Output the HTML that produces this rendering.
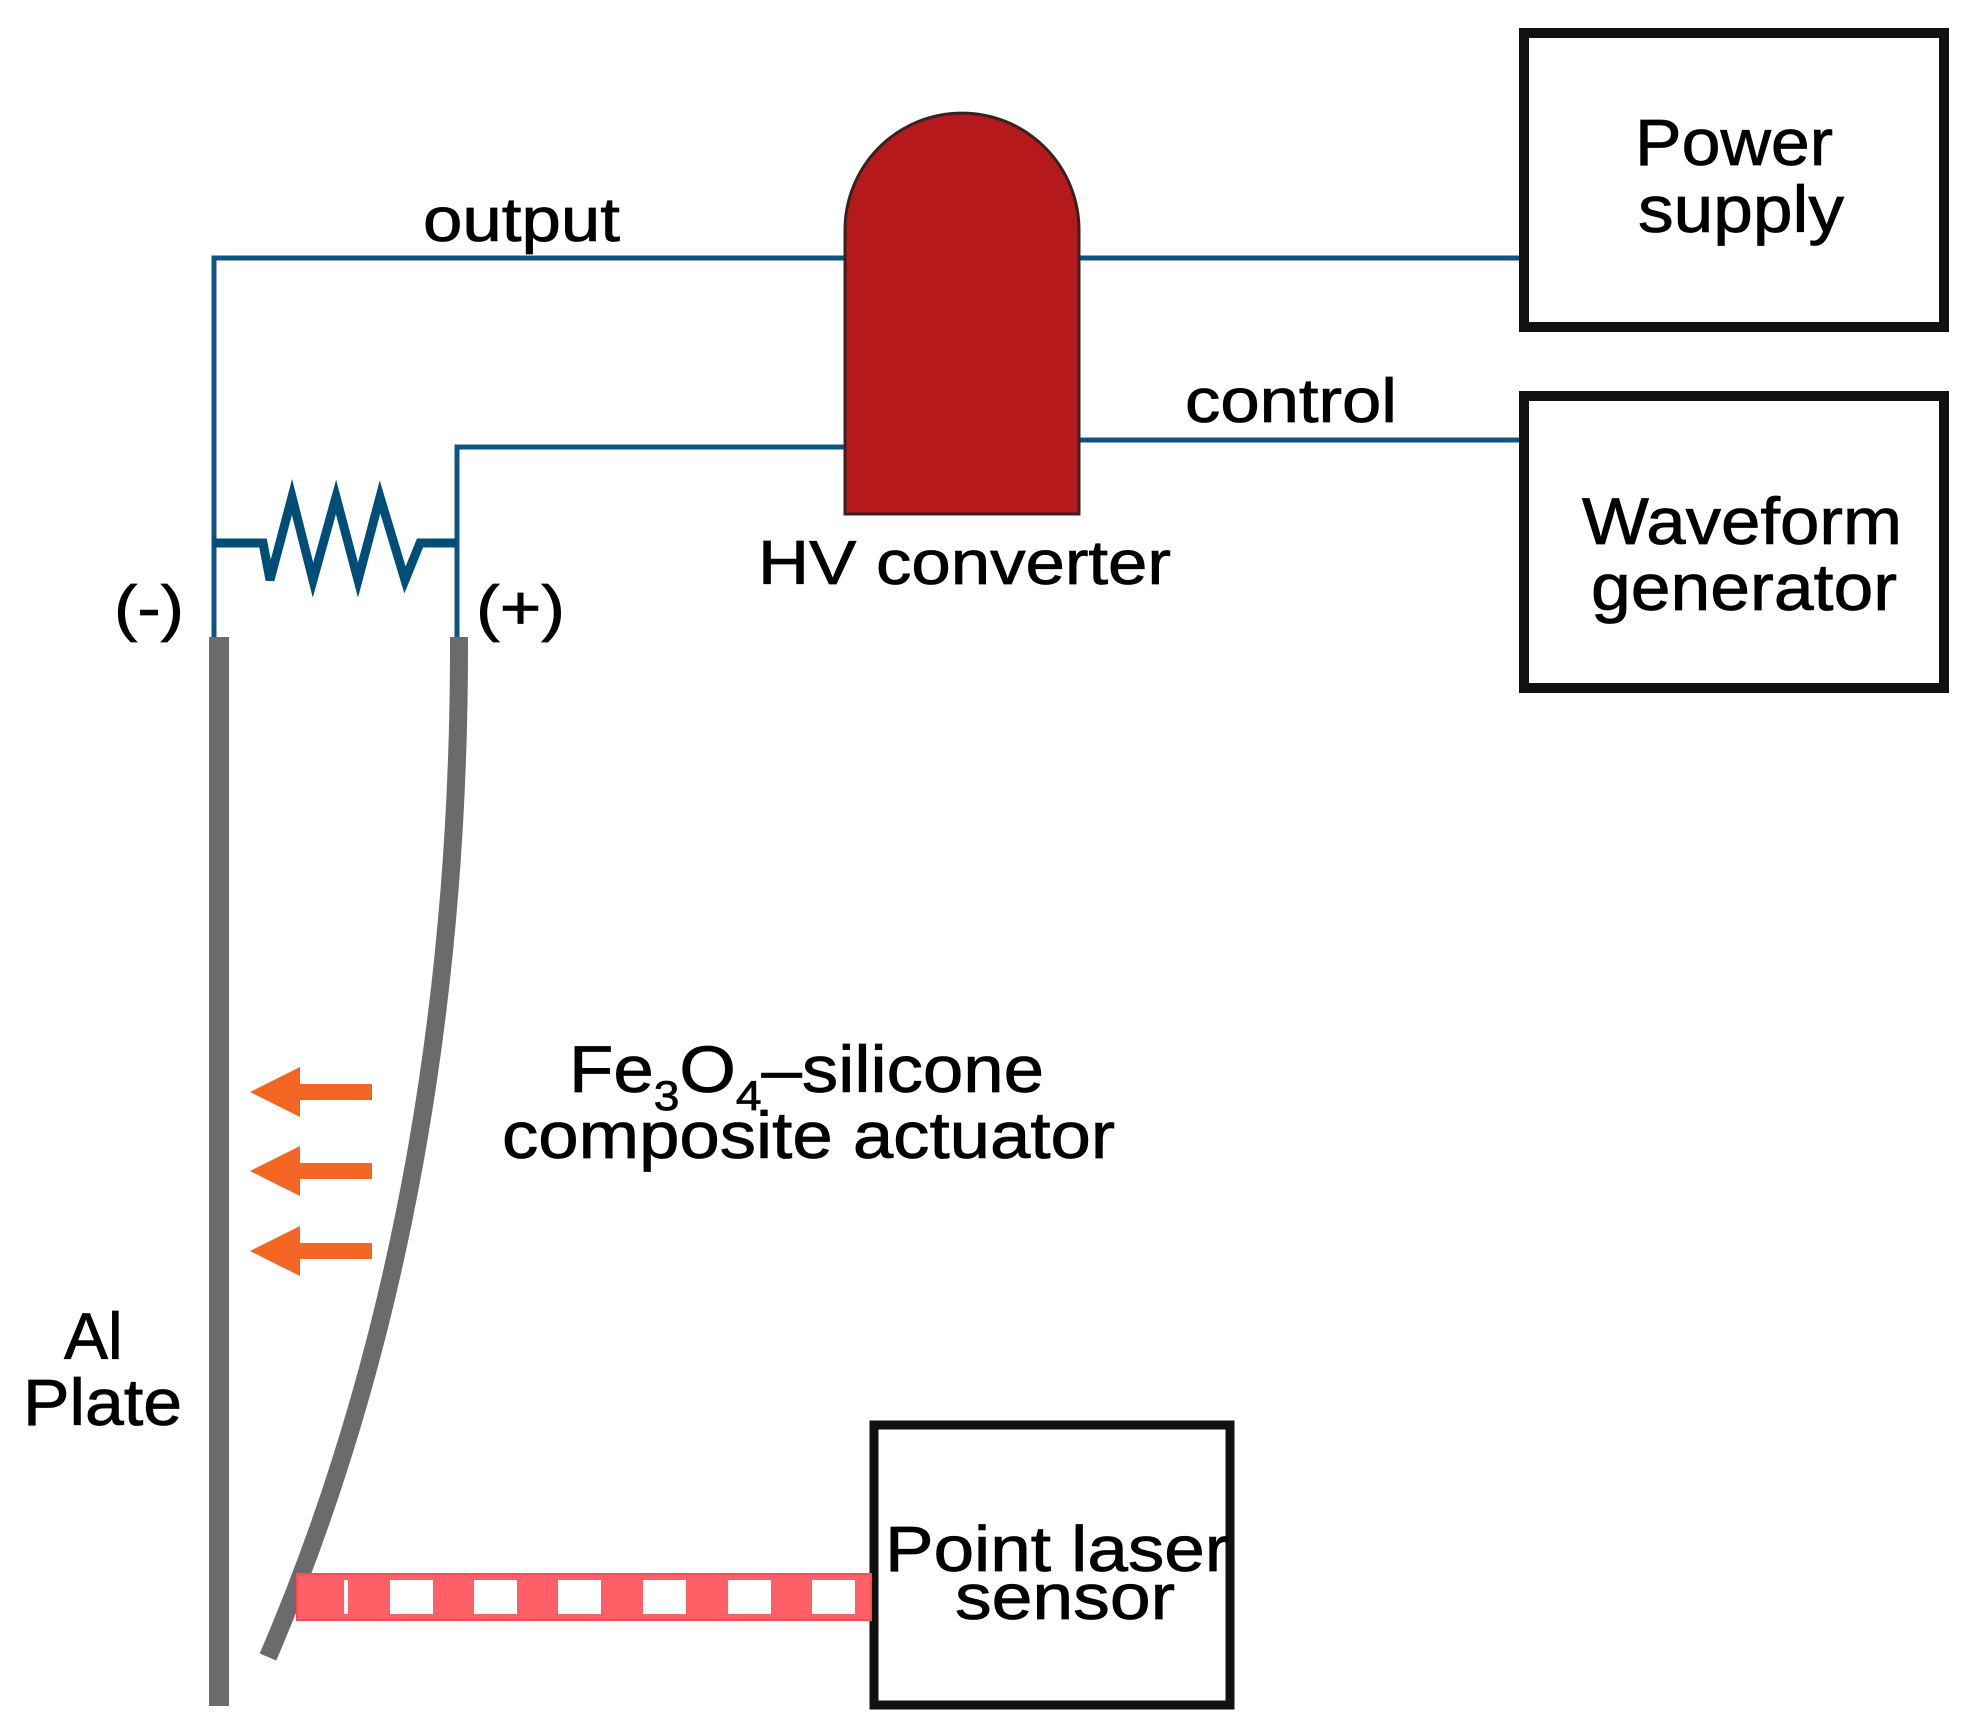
<!DOCTYPE html>
<html><head><meta charset="utf-8"><style>html,body{margin:0;padding:0;background:#fff}svg{display:block}</style></head>
<body>
<svg width="1982" height="1728" viewBox="0 0 1982 1728" xmlns="http://www.w3.org/2000/svg" font-family="Liberation Sans, Arial, sans-serif" fill="#000">
<!-- wires -->
<g stroke="#0d5580" stroke-width="5" fill="none">
<polyline points="214,637 214,258 855,258"/>
<line x1="1070" y1="258" x2="1520" y2="258"/>
<polyline points="457,637 457,447 855,447"/>
<line x1="1070" y1="440" x2="1520" y2="440"/>
</g>
<polyline points="214,543 263,543 270,580 292,497 313,580 336,497 358,580 380,497 405,580 420,543 457,543" stroke="#004d78" stroke-width="9" fill="none" stroke-linejoin="miter"/>
<!-- HV converter -->
<path d="M845,514 L845,230 A117,117 0 0 1 1079,230 L1079,514 Z" fill="#b5191b" stroke="#3a2020" stroke-width="3"/>
<!-- boxes -->
<g fill="none" stroke="#111" stroke-width="10">
<rect x="1524" y="33" width="420" height="294"/>
<rect x="1524" y="396" width="420" height="292"/>
<rect x="874" y="1425" width="356" height="280" stroke-width="9"/>
</g>
<!-- Al plate -->
<line x1="219" y1="637" x2="219" y2="1706" stroke="#6b6b6b" stroke-width="20"/>
<!-- actuator -->
<path d="M459,637 C460,1000 400,1350 268,1657" stroke="#6b6b6b" stroke-width="18" fill="none"/>
<!-- arrows -->
<g fill="#f26522">
<path d="M250,1092 L300,1067 L300,1084 L372,1084 L372,1100 L300,1100 L300,1117 Z"/>
<path d="M250,1171 L300,1146 L300,1163 L372,1163 L372,1179 L300,1179 L300,1196 Z"/>
<path d="M250,1251 L300,1226 L300,1243 L372,1243 L372,1259 L300,1259 L300,1276 Z"/>
</g>
<!-- laser beam -->
<rect x="297" y="1574" width="574" height="46" fill="#ff5f66" stroke="#ff4a50" stroke-width="2"/>
<g fill="#fff">
<rect x="344" y="1580" width="4" height="34"/>
<rect x="390" y="1580" width="43" height="34"/>
<rect x="474" y="1580" width="43" height="34"/>
<rect x="558" y="1580" width="43" height="34"/>
<rect x="643" y="1580" width="43" height="34"/>
<rect x="728" y="1580" width="43" height="34"/>
<rect x="812" y="1580" width="43" height="34"/>
</g>
<!-- text -->
<g font-size="62" stroke="#000" stroke-width="0.8">
<text x="423" y="241" textLength="197" lengthAdjust="spacingAndGlyphs">output</text>
<text x="1185" y="422" textLength="212" lengthAdjust="spacingAndGlyphs">control</text>
<text x="758" y="584" textLength="413" lengthAdjust="spacingAndGlyphs">HV converter</text>
<text x="114" y="629" textLength="70" lengthAdjust="spacingAndGlyphs">(-)</text>
<text x="476" y="629" textLength="89" lengthAdjust="spacingAndGlyphs">(+)</text>
<text x="1734" y="165" text-anchor="middle" font-size="66" textLength="198" lengthAdjust="spacingAndGlyphs">Power</text>
<text x="1741" y="232" text-anchor="middle" font-size="66" textLength="206" lengthAdjust="spacingAndGlyphs">supply</text>
<text x="1742" y="544" text-anchor="middle" textLength="320" lengthAdjust="spacingAndGlyphs" font-size="66">Waveform</text>
<text x="1744" y="610" text-anchor="middle" textLength="306" lengthAdjust="spacingAndGlyphs" font-size="66">generator</text>
<text x="569" y="1092" font-size="66" textLength="475" lengthAdjust="spacingAndGlyphs">Fe<tspan font-size="42" dy="18">3</tspan><tspan dy="-18">O</tspan><tspan font-size="42" dy="18">4</tspan><tspan dy="-18">–silicone</tspan></text>
<text x="502" y="1158" font-size="66" textLength="613" lengthAdjust="spacingAndGlyphs">composite actuator</text>
<text x="64" y="1359" font-size="66">Al</text>
<text x="23" y="1425" font-size="66" textLength="159" lengthAdjust="spacingAndGlyphs">Plate</text>
<text x="885" y="1571" font-size="64" textLength="344" lengthAdjust="spacingAndGlyphs">Point laser</text>
<text x="955" y="1619" font-size="64" textLength="220" lengthAdjust="spacingAndGlyphs">sensor</text>
</g>
</svg>
</body></html>
